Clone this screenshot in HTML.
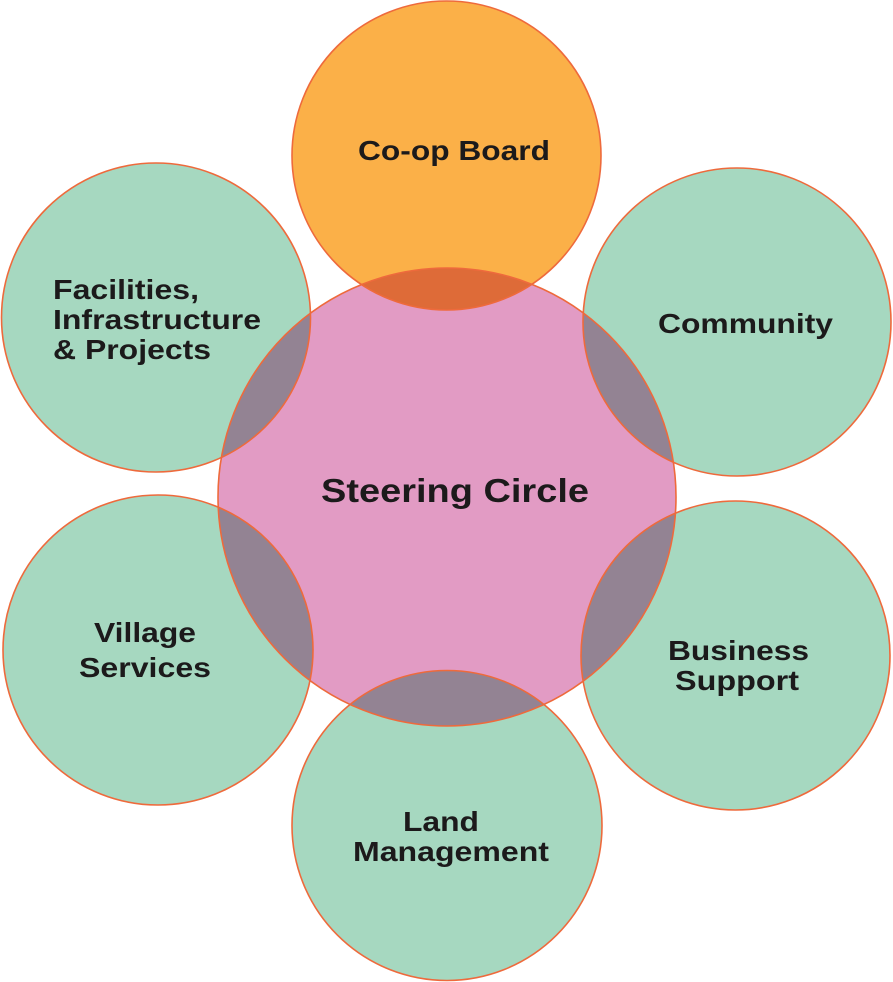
<!DOCTYPE html>
<html><head><meta charset="utf-8"><style>
html,body{margin:0;padding:0;background:#fff;}
svg{display:block;}
text{font-family:"Liberation Sans",Arial,sans-serif;font-weight:bold;fill:#1c1a1b;}
</style></head><body>
<svg width="893" height="982" viewBox="0 0 893 982" xmlns="http://www.w3.org/2000/svg">
<g>
<circle cx="446.5" cy="155.5" r="154.5" fill="#fbb048"/>
<circle cx="737" cy="322" r="154" fill="#a6d8c0"/>
<circle cx="156" cy="317.5" r="154.5" fill="#a6d8c0"/>
<circle cx="158" cy="650" r="155" fill="#a6d8c0"/>
<circle cx="735.5" cy="655.5" r="154.5" fill="#a6d8c0"/>
<circle cx="447" cy="825.5" r="155" fill="#a6d8c0"/>
<circle cx="447" cy="497" r="229" fill="#e29bc4" style="mix-blend-mode:multiply"/>
</g>
<g fill="none" stroke="#ee6a3c" stroke-width="1.6">
<circle cx="446.5" cy="155.5" r="154.5"/>
<circle cx="737" cy="322" r="154"/>
<circle cx="156" cy="317.5" r="154.5"/>
<circle cx="158" cy="650" r="155"/>
<circle cx="735.5" cy="655.5" r="154.5"/>
<circle cx="447" cy="825.5" r="155"/>
<circle cx="447" cy="497" r="229"/>
</g>
<g font-size="28">
<text x="358" y="160" textLength="192" lengthAdjust="spacingAndGlyphs">Co-op Board</text>
<text x="658" y="333" textLength="175" lengthAdjust="spacingAndGlyphs">Community</text>
<text x="53" y="299" textLength="146" lengthAdjust="spacingAndGlyphs">Facilities,</text>
<text x="53" y="329" textLength="208" lengthAdjust="spacingAndGlyphs">Infrastructure</text>
<text x="53" y="359" textLength="158" lengthAdjust="spacingAndGlyphs">&amp; Projects</text>
<text x="94" y="642" textLength="102" lengthAdjust="spacingAndGlyphs">Village</text>
<text x="79" y="677" textLength="132" lengthAdjust="spacingAndGlyphs">Services</text>
<text x="668" y="660" textLength="141" lengthAdjust="spacingAndGlyphs">Business</text>
<text x="675" y="690" textLength="124" lengthAdjust="spacingAndGlyphs">Support</text>
<text x="403" y="831" textLength="76" lengthAdjust="spacingAndGlyphs">Land</text>
<text x="353" y="861" textLength="196" lengthAdjust="spacingAndGlyphs">Management</text>
</g>
<text x="321" y="502" font-size="33" textLength="268" lengthAdjust="spacingAndGlyphs">Steering Circle</text>
</svg>
</body></html>
